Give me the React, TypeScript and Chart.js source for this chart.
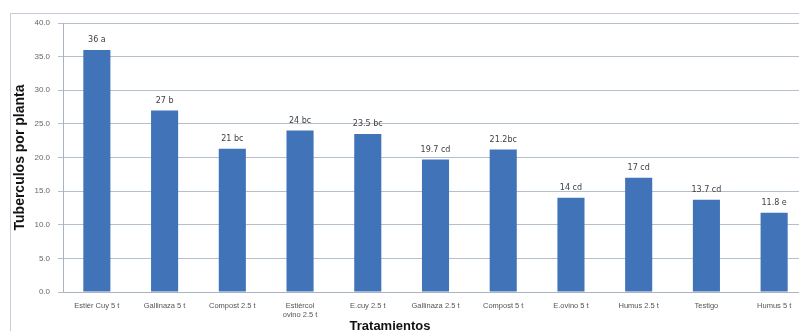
import React, { useEffect, useRef } from "react";
import { Chart, registerables } from "chart.js";

Chart.register(...registerables);

const categories: (string | string[])[] = [
  "Estiér Cuy 5 t",
  "Gallinaza 5 t",
  "Compost 2.5 t",
  ["Estiércol", "ovino 2.5 t"],
  "E.cuy 2.5 t",
  "Gallinaza 2.5 t",
  "Compost 5 t",
  "E.ovino 5 t",
  "Humus 2.5 t",
  "Testigo",
  "Humus 5 t",
];
const values = [36, 27, 21.3, 24, 23.5, 19.7, 21.2, 14, 17, 13.7, 11.8];
const valueLabels = ["36 a", "27 b", "21 bc", "24 bc", "23.5 bc", "19.7 cd", "21.2bc", "14 cd", "17 cd", "13.7 cd", "11.8 e"];
const yTicks = [0, 5, 10, 15, 20, 25, 30, 35, 40];
const xTitle = "Tratamientos";
const yTitle = "Tuberculos por planta";

const barLabelPlugin = {
  id: "barLabels",
  afterDatasetsDraw(chart: any) {
    const ctx = chart.ctx;
    const meta = chart.getDatasetMeta(0);
    ctx.save();
    ctx.font = "8px 'DejaVu Sans', sans-serif";
    ctx.fillStyle = "#404040";
    ctx.textAlign = "center";
    ctx.textBaseline = "middle";
    meta.data.forEach((el: any, i: number) => {
      ctx.fillText(valueLabels[i], el.x, el.y - 10);
    });
    ctx.restore();
  },
};

const borderPlugin = {
  id: "outerBorder",
  beforeDraw(chart: any) {
    const ctx = chart.ctx;
    ctx.save();
    ctx.fillStyle = "#ffffff";
    ctx.fillRect(0, 0, chart.width, chart.height);
    ctx.strokeStyle = "#c3ccd8";
    ctx.lineWidth = 1;
    ctx.strokeRect(10.5, 13.5, chart.width + 20, chart.height + 20);
    ctx.restore();
  },
  afterDraw(chart: any) {
    const ctx = chart.ctx;
    ctx.save();
    ctx.font = "bold 13px 'Liberation Sans', Arial, sans-serif";
    ctx.fillStyle = "#111";
    ctx.textAlign = "center";
    ctx.textBaseline = "middle";
    ctx.fillText(xTitle, 390, 326);
    ctx.restore();
  },
};

export default function App() {
  const ref = useRef<HTMLCanvasElement | null>(null);
  useEffect(() => {
    document.body.style.margin = "0";
    const chart = new Chart(ref.current!, {
      type: "bar",
      data: {
        labels: categories as any,
        datasets: [
          {
            data: values,
            backgroundColor: "#4173b9",
            borderWidth: 0,
            categoryPercentage: 1,
            barPercentage: 0.4,
          },
        ],
      },
      options: {
        animation: false,
        responsive: false,
        maintainAspectRatio: false,
        layout: { padding: { left: 10, top: 23, right: 7, bottom: 0 } },
        plugins: { legend: { display: false }, tooltip: { enabled: false } },
        scales: {
          x: {
            grid: { display: false, drawTicks: false },
            border: { color: "#a8b4c4" },
            ticks: {
              color: "#555",
              font: { size: 7.5, family: "'Liberation Sans', Arial, sans-serif" },
              padding: 9,
              maxRotation: 0,
              autoSkip: false,
            },
            afterFit(scale: any) {
              scale.height = 39;
            },
          },
          y: {
            min: 0,
            max: 40,
            afterBuildTicks(scale: any) {
              scale.ticks = yTicks.map((v) => ({ value: v }));
            },
            grid: { color: "#b4bfcc", tickLength: 5 },
            border: { color: "#a8b4c4" },
            ticks: {
              color: "#666",
              font: { size: 8, family: "'Liberation Sans', Arial, sans-serif" },
              padding: 8,
              callback: (v: any) => Number(v).toFixed(1),
            },
            title: {
              display: true,
              text: yTitle,
              color: "#111",
              font: { size: 14, weight: "bold", family: "'Liberation Sans', Arial, sans-serif" },
              padding: { top: 2, bottom: 4 },
            },
            afterFit(scale: any) {
              scale.width = 53;
            },
          },
        },
      },
      plugins: [borderPlugin, barLabelPlugin],
    });
    return () => chart.destroy();
  }, []);
  return (
    <div style={{ position: "fixed", left: 0, top: 0, width: 799, height: 331, overflow: "hidden", background: "#fff" }}>
      <canvas ref={ref} width={815} height={331} style={{ display: "block" }} />
    </div>
  );
}
